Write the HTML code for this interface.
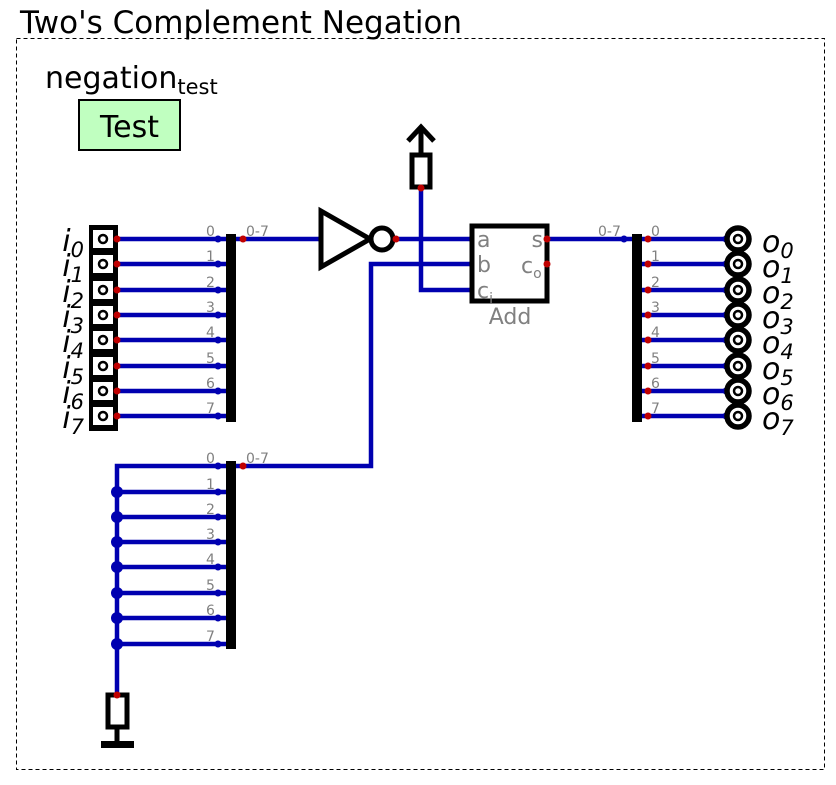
<!DOCTYPE html>
<html><head><meta charset="utf-8"><style>body{margin:0;background:#fff}svg{display:block}text{font-family:"DejaVu Sans","Liberation Sans",sans-serif}</style></head><body>
<svg width="836" height="785" viewBox="0 0 836 785" xmlns="http://www.w3.org/2000/svg">
<text x="20" y="33" font-size="31" fill="#000">Two's Complement Negation</text>
<rect x="16.5" y="38.5" width="808" height="731" fill="none" stroke="#000" stroke-width="1" stroke-dasharray="4,3"/>
<text x="45" y="88" font-size="30">negation<tspan font-size="21" dy="6">test</tspan></text>
<rect x="79" y="100" width="101" height="50" fill="#c0ffc0" stroke="#000" stroke-width="2"/>
<text x="129.5" y="137" font-size="30" text-anchor="middle">Test</text>

<g stroke="#0000b0" stroke-width="4.5" fill="none">
<path d="M117 239H230M117 264H230M117 290H230M117 315H230M117 340H230M117 366H230M117 391H230M117 416H230"/>
<path d="M230 239H321M396 239H472M547 239H636"/>
<path d="M421 188V290H472M472 264H371V466H230"/>
<path d="M117 695V466H230M117 492H230M117 517H230M117 542H230M117 567H230M117 593H230M117 618H230M117 644H230"/>
<path d="M636 239H738M636 264H738M636 290H738M636 315H738M636 340H738M636 366H738M636 391H738M636 416H738"/>
</g>
<g fill="#0000b0">
<circle cx="218" cy="239" r="3.5"/><circle cx="218" cy="264" r="3.5"/><circle cx="218" cy="290" r="3.5"/><circle cx="218" cy="315" r="3.5"/><circle cx="218" cy="340" r="3.5"/><circle cx="218" cy="366" r="3.5"/><circle cx="218" cy="391" r="3.5"/><circle cx="218" cy="416" r="3.5"/>
<circle cx="218" cy="466" r="3.5"/><circle cx="218" cy="492" r="3.5"/><circle cx="218" cy="517" r="3.5"/><circle cx="218" cy="542" r="3.5"/><circle cx="218" cy="567" r="3.5"/><circle cx="218" cy="593" r="3.5"/><circle cx="218" cy="618" r="3.5"/><circle cx="218" cy="644" r="3.5"/>
<circle cx="117" cy="492" r="6"/><circle cx="117" cy="517" r="6"/><circle cx="117" cy="542" r="6"/><circle cx="117" cy="567" r="6"/><circle cx="117" cy="593" r="6"/><circle cx="117" cy="618" r="6"/><circle cx="117" cy="644" r="6"/>
<circle cx="321" cy="239" r="3.5"/><circle cx="472" cy="239" r="3.5"/><circle cx="472" cy="264" r="3.5"/><circle cx="472" cy="290" r="3.5"/><circle cx="624" cy="239" r="3.5"/>
<circle cx="726" cy="239" r="3.5"/><circle cx="726" cy="264" r="3.5"/><circle cx="726" cy="290" r="3.5"/><circle cx="726" cy="315" r="3.5"/><circle cx="726" cy="340" r="3.5"/><circle cx="726" cy="366" r="3.5"/><circle cx="726" cy="391" r="3.5"/><circle cx="726" cy="416" r="3.5"/>
</g>

<!-- input block -->
<rect x="89" y="225" width="29" height="206" fill="#000"/>
<g fill="#fff" stroke="none">
<rect x="93" y="230" width="20" height="18"/><rect x="93" y="255" width="20" height="18"/><rect x="93" y="281" width="20" height="18"/><rect x="93" y="306" width="20" height="18"/><rect x="93" y="331" width="20" height="18"/><rect x="93" y="357" width="20" height="18"/><rect x="93" y="382" width="20" height="18"/><rect x="93" y="407" width="20" height="18"/>
</g>
<g fill="none" stroke="#000" stroke-width="2.5">
<circle cx="103" cy="239" r="4"/><circle cx="103" cy="264" r="4"/><circle cx="103" cy="290" r="4"/><circle cx="103" cy="315" r="4"/><circle cx="103" cy="340" r="4"/><circle cx="103" cy="366" r="4"/><circle cx="103" cy="391" r="4"/><circle cx="103" cy="416" r="4"/>
</g>
<g font-size="30" font-style="italic" text-anchor="end">
<text x="84" y="251">i<tspan font-size="21" dy="6">0</tspan></text>
<text x="84" y="276">i<tspan font-size="21" dy="6">1</tspan></text>
<text x="84" y="302">i<tspan font-size="21" dy="6">2</tspan></text>
<text x="84" y="327">i<tspan font-size="21" dy="6">3</tspan></text>
<text x="84" y="352">i<tspan font-size="21" dy="6">4</tspan></text>
<text x="84" y="378">i<tspan font-size="21" dy="6">5</tspan></text>
<text x="84" y="403">i<tspan font-size="21" dy="6">6</tspan></text>
<text x="84" y="428">i<tspan font-size="21" dy="6">7</tspan></text>
</g>

<!-- splitters -->
<rect x="226" y="234" width="10" height="188" fill="#000"/>
<rect x="226" y="461" width="10" height="188" fill="#000"/>
<rect x="632" y="234" width="10" height="188" fill="#000"/>
<g font-size="14" fill="#808080">
<text x="206" y="236">0</text><text x="206" y="261">1</text><text x="206" y="287">2</text><text x="206" y="312">3</text><text x="206" y="337">4</text><text x="206" y="363">5</text><text x="206" y="388">6</text><text x="206" y="413">7</text>
<text x="206" y="463">0</text><text x="206" y="489">1</text><text x="206" y="514">2</text><text x="206" y="539">3</text><text x="206" y="564">4</text><text x="206" y="590">5</text><text x="206" y="615">6</text><text x="206" y="641">7</text>
<text x="246" y="236">0-7</text><text x="246" y="463">0-7</text><text x="598" y="236">0-7</text>
<text x="651" y="236">0</text><text x="651" y="261">1</text><text x="651" y="287">2</text><text x="651" y="312">3</text><text x="651" y="337">4</text><text x="651" y="363">5</text><text x="651" y="388">6</text><text x="651" y="413">7</text>
</g>

<!-- inverter -->
<path d="M321 211L321 267L370 239Z" fill="#fff" stroke="#000" stroke-width="5"/>
<circle cx="382" cy="239" r="11" fill="#fff" stroke="#000" stroke-width="5"/>

<!-- pull-up -->
<rect x="412" y="155" width="18" height="32" fill="#fff" stroke="#000" stroke-width="5"/>
<path d="M421 155V128M408 141L421 127L434 141" fill="none" stroke="#000" stroke-width="5"/>

<!-- adder -->
<rect x="472" y="226" width="75" height="75" fill="#fff" stroke="#000" stroke-width="5"/>
<g font-size="22" fill="#808080">
<text x="477" y="247">a</text><text x="477" y="272">b</text><text x="477" y="298">c<tspan font-size="14" dy="5">i</tspan></text>
<text x="543" y="247" text-anchor="end">s</text><text x="521" y="273">c<tspan font-size="14" dy="5">o</tspan></text>
<text x="510" y="324" text-anchor="middle">Add</text>
</g>

<!-- pull-down -->
<rect x="108" y="695" width="19" height="32" fill="#fff" stroke="#000" stroke-width="5"/>
<path d="M117 727V743" stroke="#000" stroke-width="5"/>
<rect x="101" y="741" width="33" height="7" fill="#000"/>

<!-- outputs -->
<g fill="#fff" stroke="#000">
<g stroke-width="5.5">
<circle cx="738" cy="239" r="11"/><circle cx="738" cy="264" r="11"/><circle cx="738" cy="290" r="11"/><circle cx="738" cy="315" r="11"/><circle cx="738" cy="340" r="11"/><circle cx="738" cy="366" r="11"/><circle cx="738" cy="391" r="11"/><circle cx="738" cy="416" r="11"/>
</g>
<g stroke-width="2.5">
<circle cx="738" cy="239" r="4"/><circle cx="738" cy="264" r="4"/><circle cx="738" cy="290" r="4"/><circle cx="738" cy="315" r="4"/><circle cx="738" cy="340" r="4"/><circle cx="738" cy="366" r="4"/><circle cx="738" cy="391" r="4"/><circle cx="738" cy="416" r="4"/>
</g>
</g>
<g font-size="30" font-style="italic">
<text x="762" y="252">o<tspan font-size="21" dy="6">0</tspan></text>
<text x="762" y="277">o<tspan font-size="21" dy="6">1</tspan></text>
<text x="762" y="303">o<tspan font-size="21" dy="6">2</tspan></text>
<text x="762" y="328">o<tspan font-size="21" dy="6">3</tspan></text>
<text x="762" y="353">o<tspan font-size="21" dy="6">4</tspan></text>
<text x="762" y="379">o<tspan font-size="21" dy="6">5</tspan></text>
<text x="762" y="404">o<tspan font-size="21" dy="6">6</tspan></text>
<text x="762" y="429">o<tspan font-size="21" dy="6">7</tspan></text>
</g>

<!-- red pins -->
<g fill="#c00000">
<circle cx="117" cy="239" r="3.5"/><circle cx="117" cy="264" r="3.5"/><circle cx="117" cy="290" r="3.5"/><circle cx="117" cy="315" r="3.5"/><circle cx="117" cy="340" r="3.5"/><circle cx="117" cy="366" r="3.5"/><circle cx="117" cy="391" r="3.5"/><circle cx="117" cy="416" r="3.5"/>
<circle cx="243" cy="239" r="3.5"/><circle cx="243" cy="466" r="3.5"/>
<circle cx="396" cy="239" r="3.5"/><circle cx="421" cy="188" r="3.5"/>
<circle cx="547" cy="239" r="3.5"/><circle cx="547" cy="264" r="3.5"/>
<circle cx="117" cy="695" r="3.5"/>
<circle cx="648" cy="239" r="3.5"/><circle cx="648" cy="264" r="3.5"/><circle cx="648" cy="290" r="3.5"/><circle cx="648" cy="315" r="3.5"/><circle cx="648" cy="340" r="3.5"/><circle cx="648" cy="366" r="3.5"/><circle cx="648" cy="391" r="3.5"/><circle cx="648" cy="416" r="3.5"/>
</g>
</svg>
</body></html>
